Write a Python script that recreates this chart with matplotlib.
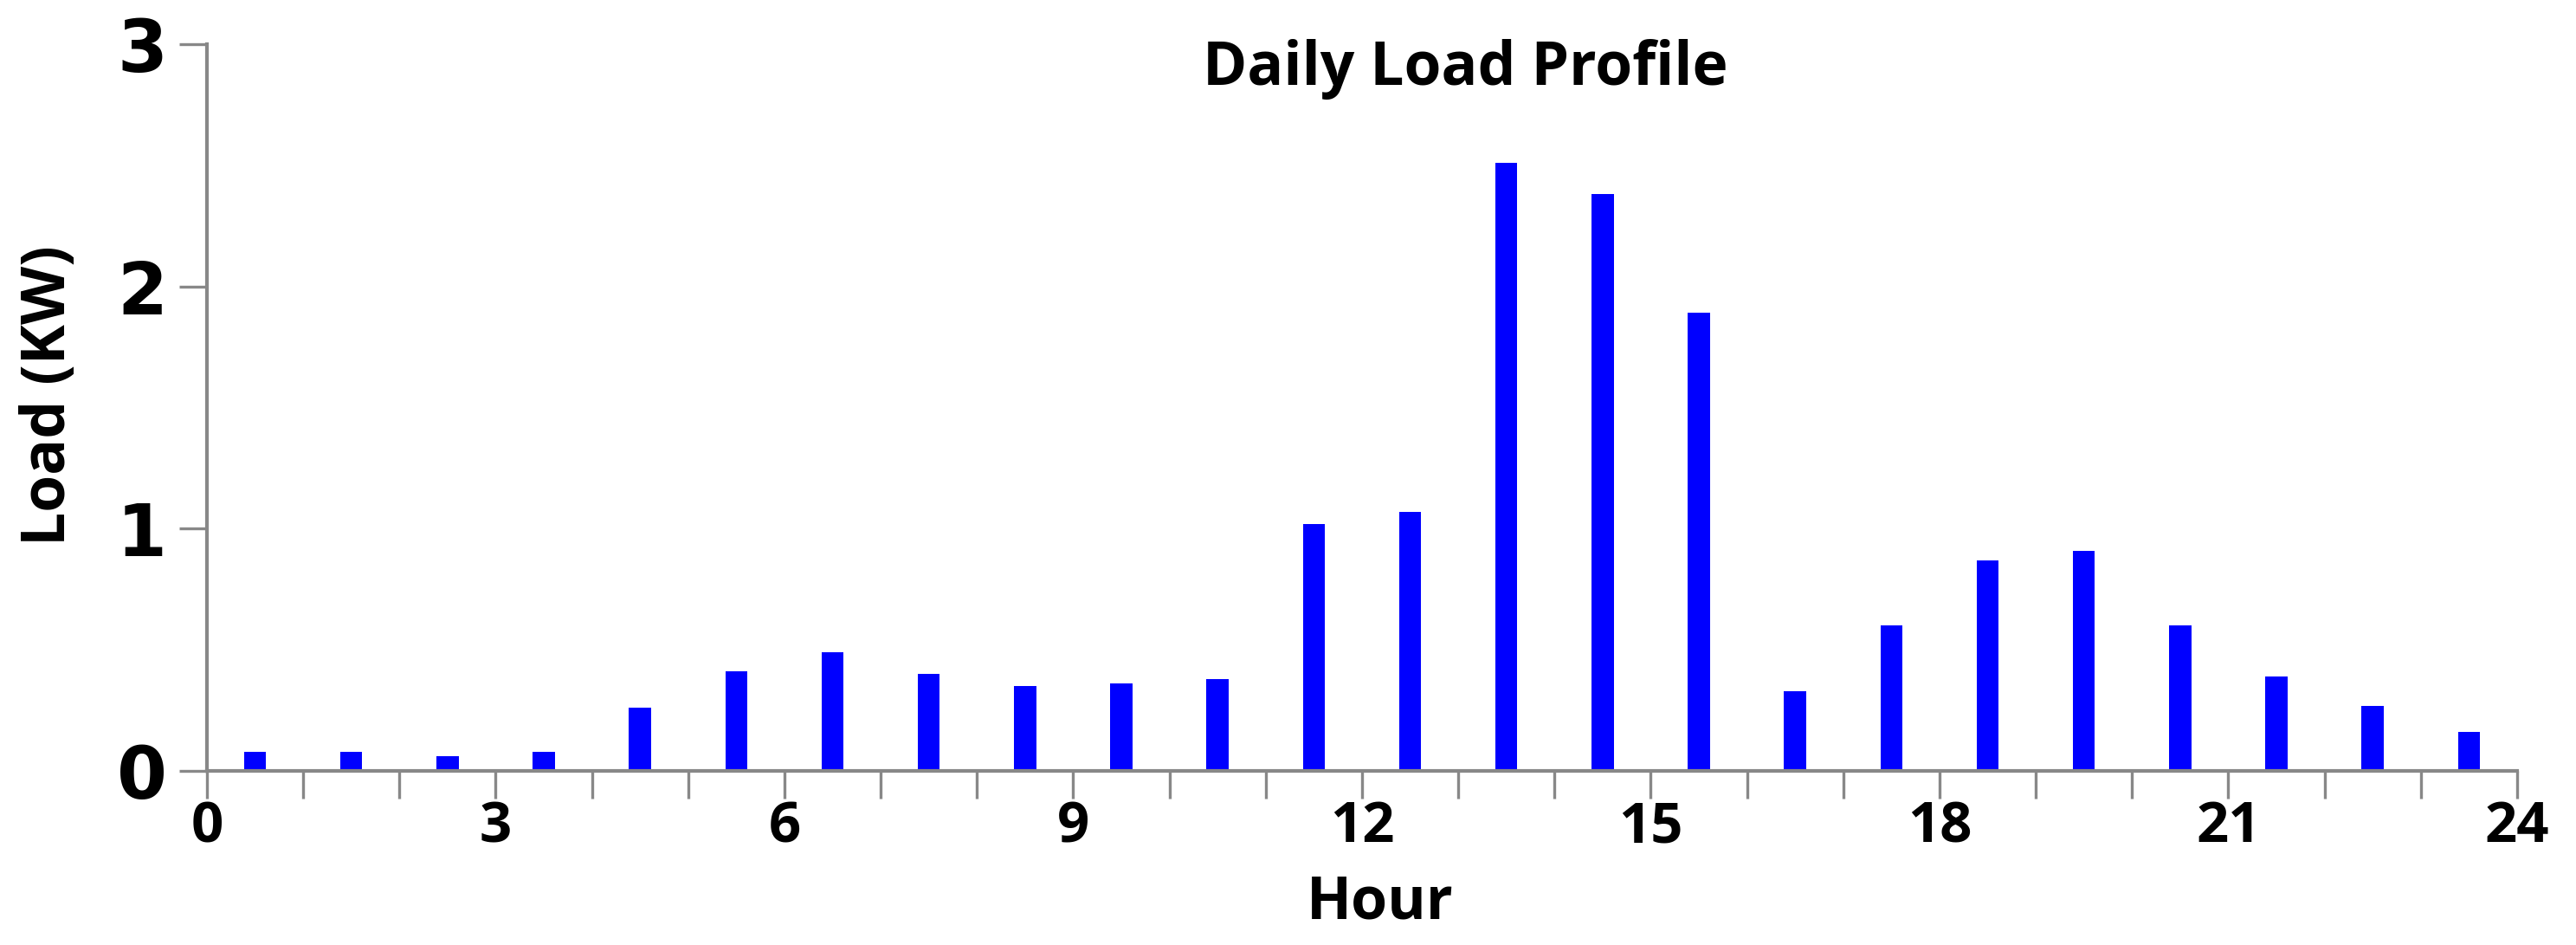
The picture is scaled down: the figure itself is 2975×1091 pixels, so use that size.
import matplotlib.pyplot as plt

# hourly load data (kW), bars centred on the half hour
hours = [h + 0.5 for h in range(24)]
load = [0.08, 0.08, 0.06, 0.08, 0.26, 0.41, 0.49, 0.40, 0.35, 0.36, 0.38, 1.02,
        1.07, 2.51, 2.38, 1.89, 0.33, 0.60, 0.87, 0.91, 0.60, 0.39, 0.27, 0.16]
x_ticks = list(range(0, 25))
x_labels = [str(h) if h % 3 == 0 else '' for h in x_ticks]
y_ticks = [0, 1, 2, 3]

grey = '#888888'

fig = plt.figure(figsize=(29.75, 10.91), dpi=100)
ax = fig.add_axes([0.0803, 0.1842, 0.8968, 0.7691])

ax.bar(hours, load, width=0.23, color='#0000ff')

ax.set_xlim(0, 24)
ax.set_ylim(0, 3)

for s in ['top', 'right']:
    ax.spines[s].set_visible(False)
for s in ['left', 'bottom']:
    ax.spines[s].set_color(grey)
    ax.spines[s].set_linewidth(3)

ax.set_xticks(x_ticks)
ax.set_xticklabels(x_labels, fontfamily='Open Sans', fontweight='bold', fontsize=47)
ax.set_yticks(y_ticks)
ax.set_yticklabels([str(v) for v in y_ticks], fontfamily='DejaVu Sans', fontweight='bold', fontsize=60)
ax.tick_params(axis='both', direction='out', length=23, width=2.4, color=grey)
ax.tick_params(axis='x', pad=1)
ax.tick_params(axis='y', pad=10)

ax.set_xlabel('Hour', fontfamily='Open Sans', fontweight='bold', fontsize=49, va='center')
ax.xaxis.set_label_coords(0.508, -0.182)
ax.set_ylabel('Load (KW)', fontfamily='Open Sans', fontweight='bold', fontsize=50, va='center')
ax.yaxis.set_label_coords(-0.068, 0.516)

ax.text(0.569, 0.927, 'Daily Load Profile', transform=fig.transFigure,
        ha='center', va='center', fontfamily='Open Sans', fontweight='bold', fontsize=50)

fig.savefig('out.png', dpi=100)
